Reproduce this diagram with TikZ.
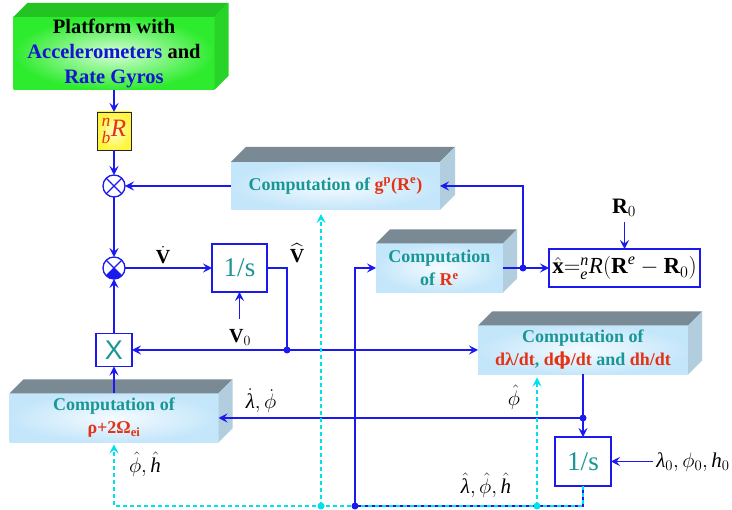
\RequirePackage{fix-cm}
\documentclass[tikz,border=0pt]{standalone}
\usepackage{amsmath}
\usepackage{fontspec}
\setmainfont{Liberation Serif}
\setsansfont{Liberation Sans}
\newfontfamily\djv{DejaVu Serif}
\usetikzlibrary{arrows.meta}
\definecolor{lblue}{RGB}{25,25,240}
\definecolor{tealt}{RGB}{25,150,150}
\definecolor{redt}{RGB}{228,50,20}
\definecolor{cyand}{RGB}{0,225,240}
\definecolor{topg}{RGB}{122,138,148}
\definecolor{sideg}{RGB}{178,206,222}
\definecolor{frontout}{RGB}{196,230,250}
\definecolor{frontin}{RGB}{244,251,255}
\definecolor{gout}{RGB}{45,235,45}
\definecolor{gin}{RGB}{215,255,215}
\definecolor{gtop}{RGB}{35,195,35}
\definecolor{gside}{RGB}{40,212,40}
\definecolor{textblue}{RGB}{20,20,210}
\definecolor{yout}{RGB}{255,245,60}
\definecolor{yin}{RGB}{255,255,205}
\newcommand{\myit}[1]{\text{\normalfont\itshape #1}}
\newcommand{\mybf}[1]{\text{\normalfont\bfseries #1}}
\newcommand{\threed}[4]{%
  \fill[#3] (#1.north west) -- ++(#2,-#2) -- ([shift={(#2,-#2)}]#1.north east) -- (#1.north east) -- cycle;
  \fill[#4] (#1.north east) -- ++(#2,-#2) -- ([shift={(#2,-#2)}]#1.south east) -- (#1.south east) -- cycle;
}
\begin{document}
\begin{tikzpicture}[x=1pt,y=-1pt,
  >={Stealth[length=9pt,width=9pt,inset=3.5pt]},
  conn/.style={draw=lblue,line width=1.3pt},
  dashc/.style={draw=cyand,line width=1.2pt,dash pattern=on 4pt off 3pt},
  cubeface/.style={shade,inner color=frontin,outer color=frontout,inner sep=0pt,outer sep=0pt,font=\bfseries\fontsize{18}{23}\selectfont,text=tealt,align=center},
  blk/.style={draw=lblue,fill=white,line width=1.3pt,inner sep=0pt,outer sep=0pt},
  jdot/.style={circle,fill=lblue,inner sep=0pt,minimum size=7pt},
  cdot/.style={circle,fill=cyand,inner sep=0pt,minimum size=7pt},
  lbl/.style={inner sep=1pt,font=\fontsize{21}{22}\selectfont},
  lblb/.style={inner sep=1pt,font=\fontsize{20}{22}\selectfont},
  sumnode/.style={circle,draw=lblue,fill=white,line width=1.3pt,minimum size=22pt,inner sep=0pt,outer sep=0pt}
]
\fill[white] (0,0) rectangle (732,510);
\useasboundingbox (0,0) rectangle (732,510);

% 3D boxes
\node[cubeface,inner color=gin,outer color=gout,minimum width=201pt,minimum height=73pt,text=black,font=\bfseries\fontsize{20.5}{25}\selectfont] (plat) at (114,53.5) {Platform with\\\textcolor{textblue}{Accelerometers} and\\\textcolor{textblue}{Rate Gyros}};
\threed{plat}{14}{gtop}{gside}
\node[cubeface,minimum width=209pt,minimum height=48pt] (gp) at (335.5,186) {Computation of \textcolor{redt}{g\textsuperscript{p}(R\textsuperscript{e})}};
\threed{gp}{15}{topg}{sideg}
\node[cubeface,minimum width=127pt,minimum height=49pt] (Re) at (439.5,268) {Computation\\of \textcolor{redt}{R\textsuperscript{e}}};
\threed{Re}{14}{topg}{sideg}
\node[cubeface,minimum width=210pt,minimum height=49pt] (dl) at (583,350) {Computation of\\\textcolor{redt}{dλ/dt}, \textcolor{redt}{d{\djv ϕ}/dt} and \textcolor{redt}{dh/dt}};
\threed{dl}{14}{topg}{sideg}
\node[cubeface,minimum width=209pt,minimum height=49pt] (rho) at (114,418) {Computation of\\\textcolor{redt}{ρ+2Ω\textsubscript{ei}}};
\threed{rho}{14}{topg}{sideg}

% flat blocks
\node[draw=black!85,line width=0.9pt,shade,inner color=yin,outer color=yout,minimum width=34pt,minimum height=38pt,inner sep=0pt,outer sep=0pt,font=\fontsize{25}{25}\selectfont] (nbR) at (114,131) {\color{redt}${}^{\myit{n}}_{\myit{b}}\myit{R}$};
\node[sumnode] (m1) at (114,186) {};
\draw[lblue,line width=1.1pt] (m1.north west) -- (m1.south east) (m1.north east) -- (m1.south west);
\node[sumnode] (s1) at (114,268) {};
\fill[lblue] (s1.center) -- (s1.south west) arc[start angle=-135,end angle=-45,radius=11pt] -- cycle;
\draw[lblue,line width=1.1pt] (s1.north west) -- (s1.south east) (s1.north east) -- (s1.south west);
\node[blk,minimum width=55pt,minimum height=48pt,text=tealt,font=\fontsize{27}{27}\selectfont] (int1) at (239.5,268) {1/s};
\node[blk,minimum width=36pt,minimum height=33pt,text=tealt,font=\sffamily\fontsize{27}{27}\selectfont] (X) at (114,350) {X};
\node[blk,minimum width=151pt,minimum height=38pt,font=\fontsize{23}{23}\selectfont] (xhat) at (624.5,268) {$\hat{\mybf{x}}{=}{}^{\myit{n}}_{\myit{e}}\myit{R}(\mybf{R}^{\myit{e}}-\mybf{R}_0)$};
\node[blk,minimum width=56pt,minimum height=49pt,text=tealt,font=\fontsize{27}{27}\selectfont] (int2) at (583,461.5) {1/s};

% labels
\node[lblb] (lVd) at (163,255) {$\dot{\mybf{V}}$};
\node[lblb] (lVh) at (297,253) {$\widehat{\mybf{V}}$};
\node[lblb] (lV0) at (240,337) {$\mybf{V}_0$};
\node[lblb,font=\fontsize{22}{22}\selectfont] (lR0) at (624,208) {$\mybf{R}_0$};
\node[lbl] (lld) at (261,401) {$\dot{\myit{λ}},\dot{\phi}$};
\node[lbl] (lph) at (514,397) {$\hat{\phi}$};
\node[lbl] (lphh) at (145,464) {$\hat{\phi},\hat{\myit{h}}$};
\node[lbl] (llph) at (486,485) {$\hat{\myit{λ}},\hat{\phi},\hat{\myit{h}}$};
\node[lbl] (l0) at (693,462) {$\myit{λ}_0,\phi_0,\myit{h}_0$};

% coordinates
\coordinate (j1) at (287,350);
\coordinate (j2) at (523,268);
\coordinate (j3) at (583,418);
\coordinate (j4) at (355,506);
\coordinate (v0in) at (239.5,319);
\coordinate (r0in) at (624.5,222);
\coordinate (l0in) at (653,461.5);
\coordinate (cb) at (114,506);
\coordinate (c1) at (321,506);
\coordinate (c2) at (537,506);

% connectors
\draw[conn,->] (plat.south) -- (nbR.north);
\draw[conn,->] (nbR.south) -- (m1.north);
\draw[conn,->] (gp.west) -- (m1.east);
\draw[conn,->] (m1.south) -- (s1.north);
\draw[conn,->] (s1.east) -- (int1.west);
\draw[conn,->] (X.north) -- (s1.south);
\draw[conn,->] (rho.north) -- (X.south);
\draw[conn,->] (v0in) -- (int1.south);
\draw[conn] (int1.east) -| (j1);
\draw[conn,<->] (X.east) -- (dl.west);
\draw[conn,->] (Re.east) -- (xhat.west);
\draw[conn,->] (j2) |- (gp.east);
\draw[conn,->] (r0in) -- (xhat.north);
\draw[conn,->] (dl.south) -- (int2.north);
\draw[conn,->] (j3) -- (rho.east);
\draw[conn,->] (l0in) -- (int2.east);
\draw[conn] (int2.south) |- (j4);
\draw[conn,->] (j4) |- (Re.west);
\draw[dashc,->,shorten >=2pt] (int2.south) |- (cb) -- (rho.south);
\draw[dashc,->,shorten >=4pt] (c1) -- (c1 |- gp.south);
\draw[dashc,->,shorten >=3pt] (c2) -- (c2 |- dl.south);

% junction dots
\node[jdot] (dj1) at (j1) {};
\node[jdot] (dj2) at (j2) {};
\node[jdot] (dj3) at (j3) {};
\node[jdot] (dj4) at (j4) {};
\node[cdot] (dc1) at (c1) {};
\node[cdot] (dc2) at (c2) {};
\end{tikzpicture}
\end{document}
